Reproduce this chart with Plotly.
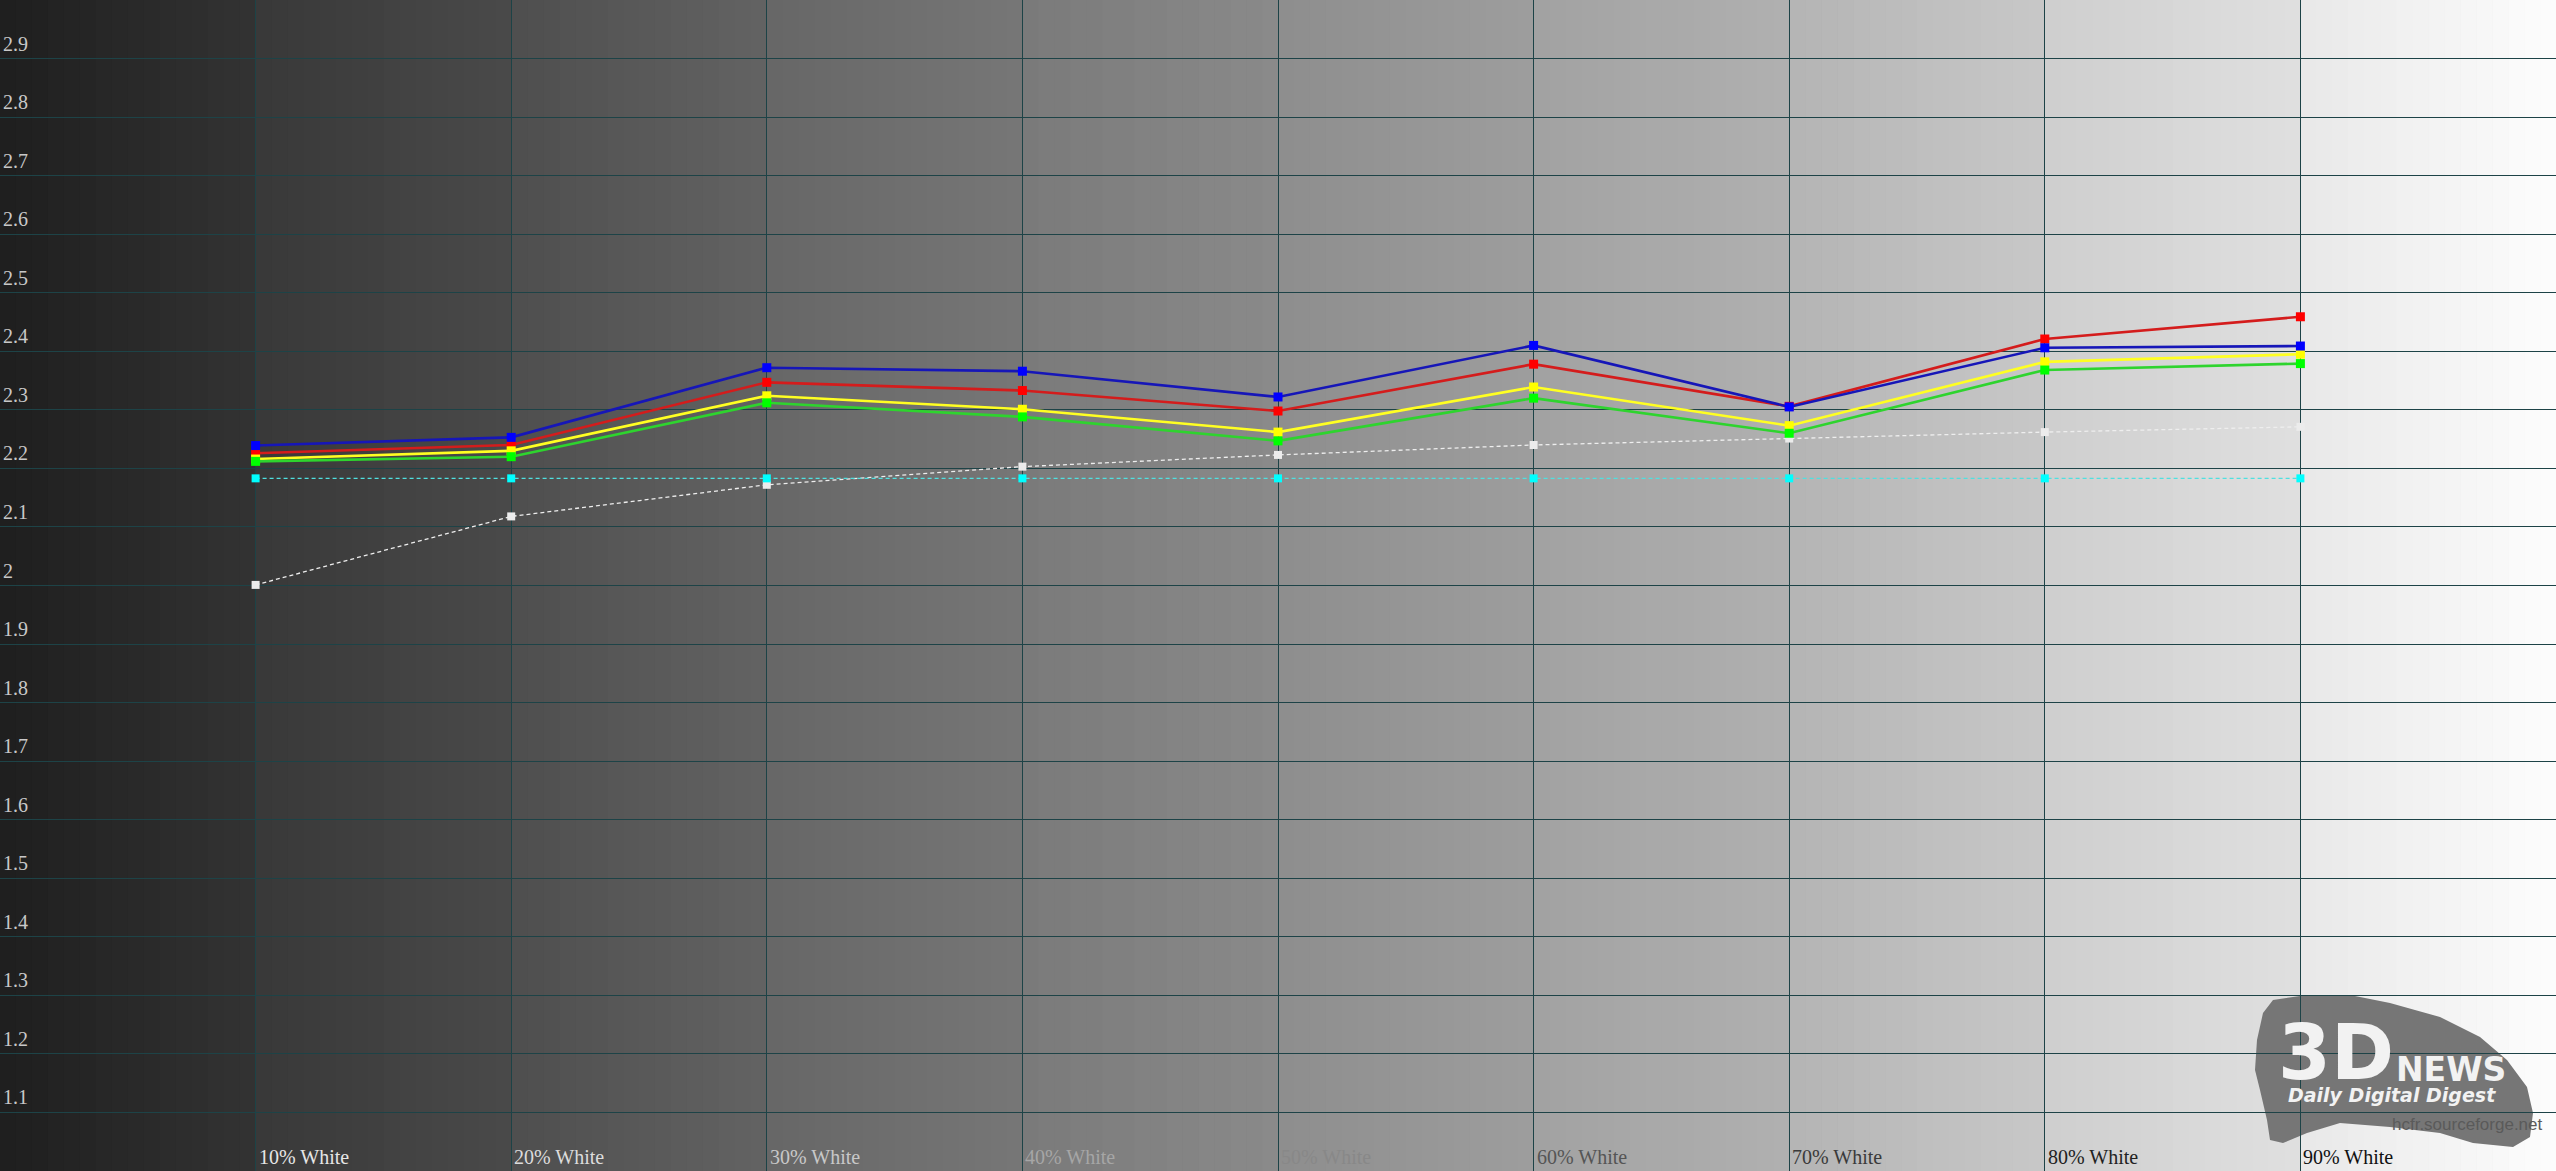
import plotly.graph_objects as go

# ---- data (gamma per grey level) ----
levels = [10, 20, 30, 40, 50, 60, 70, 80, 90]
level_labels = ["10% White", "20% White", "30% White", "40% White", "50% White",
                "60% White", "70% White", "80% White", "90% White"]

gamma_red = [2.226, 2.240, 2.347, 2.333, 2.298, 2.378, 2.306, 2.421, 2.459]
gamma_yellow = [2.216, 2.230, 2.324, 2.301, 2.262, 2.339, 2.273, 2.382, 2.395]
gamma_green = [2.212, 2.220, 2.312, 2.288, 2.247, 2.320, 2.260, 2.368, 2.379]
gamma_blue = [2.239, 2.253, 2.372, 2.366, 2.322, 2.410, 2.305, 2.406, 2.409]
gamma_ref = [2.183, 2.183, 2.183, 2.183, 2.183, 2.183, 2.183, 2.183, 2.183]
gamma_lum = [2.001, 2.118, 2.172, 2.203, 2.223, 2.240, 2.251, 2.262, 2.271]

y_ticks = [1.1, 1.2, 1.3, 1.4, 1.5, 1.6, 1.7, 1.8, 1.9, 2.0,
           2.1, 2.2, 2.3, 2.4, 2.5, 2.6, 2.7, 2.8, 2.9]
y_tick_text = ["1.1", "1.2", "1.3", "1.4", "1.5", "1.6", "1.7", "1.8", "1.9", "2",
               "2.1", "2.2", "2.3", "2.4", "2.5", "2.6", "2.7", "2.8", "2.9"]

# grey ramp of the background, start / end of each 10% column
bg_start = [30, 56, 78, 102, 122, 142, 162, 180, 206, 232]
bg_end = [51, 74, 99, 119, 138, 157, 176, 200, 224, 253]
label_colors = ["#e6e6e6", "#dcdcdc", "#c8c8c8", "#a6a6a6", "#888888",
                "#555555", "#3a3a3a", "#222222", "#111111"]

W, H = 2556, 1171
fig = go.Figure()

# background gradient, drawn as thin vertical strips
shapes = []
steps = 16
for c in range(10):
    for i in range(steps):
        g = round(bg_start[c] + (bg_end[c] - bg_start[c]) * (i + 0.5) / steps)
        x0 = c * 10 + i * 10 / steps
        shapes.append(dict(type="rect", xref="x", yref="paper", layer="below",
                           x0=x0, x1=x0 + 10 / steps + 0.03, y0=0, y1=1,
                           fillcolor=f"rgb({g},{g},{g})", line=dict(width=0)))


def px(x, y):
    return x / W, 1 - y / H


# 3DNews watermark: brush-stroke blob
blob = [(2273, 1000), (2307, 995), (2350, 995), (2390, 1003), (2440, 1017),
        (2480, 1037), (2507, 1060), (2527, 1087), (2533, 1113), (2530, 1137),
        (2513, 1147), (2473, 1143), (2440, 1133), (2390, 1127), (2340, 1123),
        (2307, 1133), (2283, 1143), (2270, 1140), (2267, 1120), (2260, 1090),
        (2255, 1070), (2257, 1040), (2263, 1013)]
path = ""
for k, (bx, by) in enumerate(blob):
    qx, qy = px(bx, by)
    path += ("M" if k == 0 else "L") + f"{qx:.5f},{qy:.5f} "
path += "Z"
shapes.append(dict(type="path", xref="paper", yref="paper", path=path,
                   fillcolor="#767676", line=dict(width=0), layer="below"))

# series
fig.add_trace(go.Scatter(x=levels, y=gamma_lum, mode="lines+markers", name="Y",
                         line=dict(color="#eeeeee", width=1.3, dash="4px,3px"),
                         marker=dict(symbol="square", size=8, color="#ececec")))
fig.add_trace(go.Scatter(x=levels, y=gamma_ref, mode="lines+markers", name="Ref",
                         line=dict(color="#4fe0e0", width=1.3, dash="4px,3px"),
                         marker=dict(symbol="square", size=8, color="#00ffff")))
fig.add_trace(go.Scatter(x=levels, y=gamma_red, mode="lines+markers", name="R",
                         line=dict(color="#d41c1c", width=2.6),
                         marker=dict(symbol="square", size=9, color="#ff0000")))
fig.add_trace(go.Scatter(x=levels, y=gamma_yellow, mode="lines+markers", name="Yellow",
                         line=dict(color="#ffff22", width=2.6),
                         marker=dict(symbol="square", size=9, color="#ffff00")))
fig.add_trace(go.Scatter(x=levels, y=gamma_green, mode="lines+markers", name="G",
                         line=dict(color="#2ed42e", width=2.6),
                         marker=dict(symbol="square", size=9, color="#00ff00")))
fig.add_trace(go.Scatter(x=levels, y=gamma_blue, mode="lines+markers", name="B",
                         line=dict(color="#1616b8", width=2.6),
                         marker=dict(symbol="square", size=9, color="#0000ff")))

annotations = []
for v, t in zip(y_ticks, y_tick_text):
    annotations.append(dict(x=0, xref="paper", y=v, yref="y", text=t,
                            xanchor="left", yanchor="bottom", showarrow=False,
                            xshift=1, yshift=2,
                            font=dict(family="Liberation Serif", size=20, color="#c8c8c8")))
for lv, t, col in zip(levels, level_labels, label_colors):
    annotations.append(dict(x=lv, xref="x", y=0, yref="paper", text=t,
                            xanchor="left", yanchor="bottom", showarrow=False,
                            xshift=1, yshift=1,
                            font=dict(family="Liberation Serif", size=20, color=col)))

# watermark texts
for t, (cx, cy), size, col, fam in [
    ("<b>3D</b>", (2336, 1052), 76, "#f2f2f2", "DejaVu Sans"),
    ("<b>NEWS</b>", (2451, 1069), 33, "#f2f2f2", "DejaVu Sans"),
    ("<b><i>Daily Digital Digest</i></b>", (2392, 1095), 19, "#f2f2f2", "DejaVu Sans"),
    ("hcfr.sourceforge.net", (2467, 1124), 17, "#5a5a5a", "Liberation Sans"),
]:
    qx, qy = px(cx, cy)
    annotations.append(dict(x=qx, y=qy, xref="paper", yref="paper", text=t,
                            showarrow=False, xanchor="center", yanchor="middle",
                            font=dict(family=fam, size=size, color=col)))

fig.update_layout(
    width=W, height=H,
    margin=dict(l=0, r=0, t=0, b=0, pad=0),
    paper_bgcolor="#1e1e1e",
    plot_bgcolor="#1e1e1e",
    showlegend=False,
    shapes=shapes,
    annotations=annotations,
    xaxis=dict(range=[0, 100], tickmode="linear", tick0=0, dtick=10,
               showgrid=True, gridcolor="#1d4347", gridwidth=1,
               zeroline=False, showticklabels=False, fixedrange=True),
    yaxis=dict(range=[1, 3], tickmode="linear", tick0=1, dtick=0.1,
               showgrid=True, gridcolor="#1d4347", gridwidth=1.4,
               zeroline=False, showticklabels=False, fixedrange=True),
)

fig.write_html("out.html", config={"displayModeBar": False},
               post_script="document.body.style.margin='0';"
                           "document.body.style.overflow='hidden';")
